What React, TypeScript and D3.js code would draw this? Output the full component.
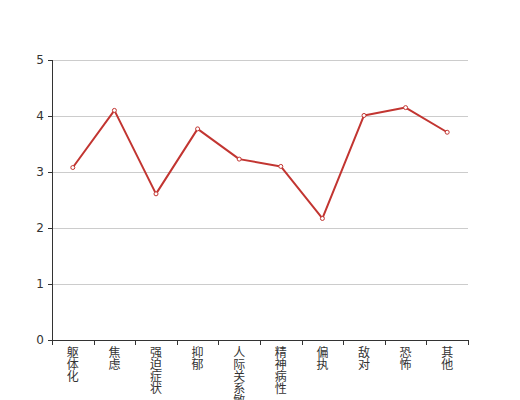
import React from "react";
import * as d3 from "d3";

const categories = ["躯体化", "焦虑", "强迫症状", "抑郁", "人际关系敏感", "精神病性", "偏执", "敌对", "恐怖", "其他"];
const values = [3.08, 4.1, 2.61, 3.77, 3.23, 3.1, 2.17, 4.01, 4.15, 3.71];
const yTicks = [0, 1, 2, 3, 4, 5];

const W = 520, H = 400;
const left = 52, right = 468, top = 60, bottom = 340;
const font = "'DejaVu Sans', 'Noto Sans CJK SC', sans-serif";

export default function App() {
  const x = d3.scaleBand<string>().domain(categories).range([left, right]);
  const y = d3.scaleLinear().domain([0, 5]).range([bottom, top]);
  const cx = (c: string) => (x(c) ?? 0) + x.bandwidth() / 2;
  const line = d3.line<number>().x((_, i) => cx(categories[i])).y((v) => y(v));
  const tickXs = d3.range(categories.length + 1).map((i) => left + i * x.bandwidth());

  return (
    <svg width={W} height={H} style={{ position: "absolute", left: 0, top: 0, background: "#fff" }}>
      {yTicks.map((t) => (
        t > 0 ? <line key={"g" + t} x1={left} x2={right} y1={Math.round(y(t)) + 0.5} y2={Math.round(y(t)) + 0.5} stroke="#ccc" strokeWidth={1} /> : null
      ))}
      <line x1={left + 0.5} x2={left + 0.5} y1={top} y2={bottom + 0.5} stroke="#333" strokeWidth={1} />
      {yTicks.map((t) => (
        <g key={"y" + t}>
          <line x1={left - 4} x2={left} y1={Math.round(y(t)) + 0.5} y2={Math.round(y(t)) + 0.5} stroke="#333" />
          <text x={left - 8} y={y(t)} dy="0.35em" textAnchor="end" fontSize={12} fill="#333" fontFamily={font}>{t}</text>
        </g>
      ))}
      <line x1={left} x2={right} y1={bottom + 0.5} y2={bottom + 0.5} stroke="#333" strokeWidth={1} />
      {tickXs.map((tx, i) => (
        <line key={"xt" + i} x1={Math.round(tx) + 0.5} x2={Math.round(tx) + 0.5} y1={bottom} y2={bottom + 5} stroke="#333" />
      ))}
      {categories.map((c) => (
        <text key={c} textAnchor="middle" fontSize={12} fill="#333" fontFamily={font}>
          {Array.from(c).map((ch, j) => (
            <tspan key={j} x={cx(c)} y={bottom + 17 + j * 12}>{ch}</tspan>
          ))}
        </text>
      ))}
      <path d={line(values) ?? ""} fill="none" stroke="#c23531" strokeWidth={2} strokeLinejoin="bevel" />
      {values.map((v, i) => (
        <circle key={i} cx={cx(categories[i])} cy={y(v)} r={2} fill="#fff" stroke="#c23531" strokeWidth={1} />
      ))}
    </svg>
  );
}
